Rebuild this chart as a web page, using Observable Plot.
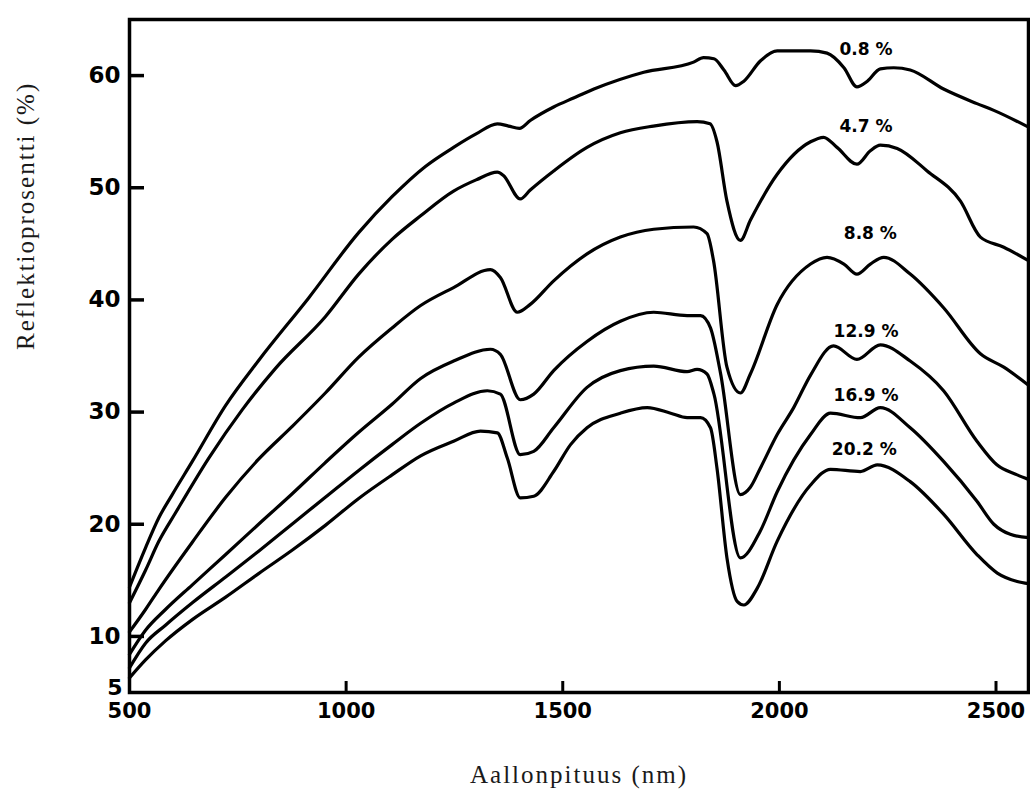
<!DOCTYPE html>
<html>
<head>
<meta charset="utf-8">
<script src="https://cdn.jsdelivr.net/npm/d3@7"></script>
<script src="https://cdn.jsdelivr.net/npm/@observablehq/plot@0.6"></script>
<style>
  html, body { margin: 0; padding: 0; background: white; }
</style>
</head>
<body>
<div id="chart"></div>
<script>
// Tick values
const xTicks = [500, 1000, 1500, 2000, 2500];
const yTicks = [5, 10, 20, 30, 40, 50, 60];

// Axis titles
const xTitle = "Aallonpituus (nm)";
const yTitle = "Reflektioprosentti (%)";

// Series: 0.8 %
const wl08 = [500, 537, 568, 598, 645, 722, 798, 914, 1029, 1106, 1183, 1248, 1300, 1349, 1375, 1400, 1425, 1479, 1525, 1572, 1687, 1802, 1825, 1849, 1872, 1899, 1918, 1956, 1995, 2072, 2110, 2149, 2179, 2203, 2233, 2264, 2302, 2379, 2456, 2495, 2575];
const r08  = [14.4, 17.9, 20.6, 22.6, 25.6, 30.6, 34.6, 40.2, 46.0, 49.2, 51.9, 53.6, 54.8, 55.7, 55.5, 55.3, 56.0, 57.2, 58.0, 58.8, 60.3, 61.2, 61.6, 61.5, 60.5, 59.1, 59.5, 61.3, 62.2, 62.2, 62.0, 60.7, 59.0, 59.5, 60.6, 60.7, 60.5, 58.8, 57.5, 56.9, 55.4];

// Series: 4.7 %
const wl47 = [500, 537, 568, 606, 683, 760, 837, 952, 1029, 1106, 1172, 1248, 1300, 1349, 1363, 1402, 1425, 1479, 1556, 1633, 1709, 1810, 1840, 1856, 1879, 1910, 1933, 1995, 2072, 2102, 2133, 2179, 2210, 2233, 2272, 2341, 2418, 2464, 2518, 2575];
const r47  = [13.0, 15.9, 18.5, 21.0, 25.9, 30.2, 33.9, 38.5, 42.3, 45.4, 47.5, 49.7, 50.7, 51.4, 51.1, 49.0, 49.8, 51.5, 53.6, 54.9, 55.5, 55.9, 55.7, 54.1, 48.8, 45.3, 47.1, 51.2, 54.1, 54.5, 53.6, 52.1, 53.3, 53.8, 53.5, 51.5, 48.8, 45.6, 44.7, 43.5];

// Series: 8.8 %
const wl88 = [500, 537, 568, 645, 722, 798, 875, 952, 1029, 1106, 1172, 1248, 1333, 1356, 1395, 1425, 1479, 1556, 1633, 1710, 1802, 1833, 1848, 1879, 1910, 1933, 1995, 2072, 2110, 2149, 2179, 2210, 2241, 2302, 2379, 2464, 2518, 2575];
const r88  = [10.4, 12.4, 14.2, 18.4, 22.4, 25.8, 28.7, 31.7, 34.9, 37.5, 39.5, 41.1, 42.7, 42.0, 38.9, 39.6, 41.7, 44.1, 45.6, 46.3, 46.5, 45.9, 43.5, 34.0, 31.7, 33.4, 39.6, 43.2, 43.8, 43.2, 42.3, 43.2, 43.8, 42.3, 39.3, 35.2, 34.0, 32.4];

// Series: 12.9 %
const wl129 = [500, 537, 583, 645, 722, 798, 875, 952, 1029, 1106, 1172, 1248, 1333, 1356, 1402, 1433, 1479, 1556, 1633, 1710, 1787, 1818, 1841, 1864, 1910, 1933, 1956, 1995, 2033, 2072, 2125, 2179, 2233, 2302, 2379, 2456, 2502, 2549, 2575];
const r129  = [8.4, 10.55, 12.4, 14.6, 17.3, 20.0, 22.7, 25.5, 28.2, 30.7, 33.0, 34.55, 35.6, 35.15, 31.1, 31.6, 33.7, 36.3, 38.1, 38.9, 38.6, 38.6, 37.5, 33.5, 22.65, 23.3, 25.0, 28.0, 30.4, 33.3, 35.9, 34.7, 36.0, 34.55, 31.9, 27.4, 25.3, 24.4, 24.0];

// Series: 16.9 %
const wl169 = [500, 537, 583, 645, 722, 798, 875, 952, 1029, 1106, 1172, 1248, 1326, 1356, 1402, 1433, 1479, 1556, 1633, 1710, 1787, 1810, 1833, 1849, 1910, 1956, 1995, 2072, 2118, 2187, 2233, 2302, 2379, 2456, 2495, 2533, 2575];
const r169  = [7.2, 9.4, 11.0, 13.0, 15.3, 17.6, 20.0, 22.4, 24.8, 27.1, 29.0, 30.8, 31.9, 31.6, 26.2, 26.5, 28.6, 32.2, 33.7, 34.1, 33.6, 33.8, 33.4, 31.6, 17.0, 19.4, 22.9, 28.0, 29.9, 29.5, 30.4, 28.6, 25.6, 22.05, 20.0, 19.1, 18.8];

// Series: 20.2 %
const wl202 = [500, 537, 583, 645, 722, 798, 876, 952, 1029, 1106, 1172, 1248, 1310, 1349, 1372, 1402, 1433, 1479, 1518, 1556, 1633, 1695, 1749, 1787, 1818, 1841, 1856, 1879, 1903, 1918, 1949, 1995, 2072, 2118, 2187, 2226, 2302, 2379, 2456, 2503, 2549, 2575];
const r202  = [6.3, 7.9, 9.6, 11.5, 13.5, 15.6, 17.7, 19.9, 22.3, 24.4, 26.1, 27.4, 28.3, 28.15, 25.9, 22.35, 22.5, 24.7, 27.1, 28.6, 29.9, 30.4, 29.9, 29.5, 29.5, 28.6, 25.0, 17.0, 13.1, 12.8, 14.3, 18.5, 23.5, 24.9, 24.7, 25.3, 23.8, 20.9, 17.3, 15.65, 14.9, 14.7];

// Curve labels
const labelText = ["0.8 %", "4.7 %", "8.8 %", "12.9 %", "16.9 %", "20.2 %"];
const labelWl   = [2200, 2200, 2210, 2200, 2200, 2196];
const labelR    = [62.3, 55.5, 45.9, 37.2, 31.5, 26.7];

const series = [
  {name: "0.8 %", wl: wl08, r: r08},
  {name: "4.7 %", wl: wl47, r: r47},
  {name: "8.8 %", wl: wl88, r: r88},
  {name: "12.9 %", wl: wl129, r: r129},
  {name: "16.9 %", wl: wl169, r: r169},
  {name: "20.2 %", wl: wl202, r: r202}
];
const data = series.flatMap(s => s.wl.map((w, i) => ({series: s.name, wl: w, r: s.r[i]})));

const W = 1030, H = 798;
const mL = 129, mR = 2, mT = 19, mB = 106;
const innerW = W - mL - mR, innerH = H - mT - mB;

const tickFont = "DejaVu Sans";
const chart = Plot.plot({
  width: W, height: H,
  marginLeft: mL, marginRight: mR, marginTop: mT, marginBottom: mB,
  style: {background: "white", color: "black"},
  x: {domain: [500, 2575]},
  y: {domain: [5, 65]},
  marks: [
    Plot.frame({stroke: "black", strokeWidth: 3.5}),
    Plot.tickY(yTicks.filter(d => d > 5), {y: d => d, insetRight: innerW - 15, stroke: "black", strokeWidth: 3.5}),
    Plot.tickX(xTicks.filter(d => d > 500), {x: d => d, insetTop: innerH - 11, stroke: "black", strokeWidth: 3}),
    Plot.axisY(yTicks.filter(d => d > 5), {tickSize: 0, tickPadding: 9, fontSize: 23, fontWeight: "bold", fontFamily: tickFont, tickFormat: d3.format("d"), label: null}),
    Plot.axisY(yTicks.filter(d => d === 5), {tickSize: 0, tickPadding: 7, dy: -5, fontSize: 22, fontWeight: "bold", fontFamily: tickFont, tickFormat: d3.format("d"), label: null}),
    Plot.axisX(xTicks, {tickSize: 0, tickPadding: 11, fontSize: 21, fontWeight: "bold", fontFamily: tickFont, tickFormat: d3.format("d"), label: null}),
    Plot.line(data, {x: "wl", y: "r", z: "series", stroke: "black", strokeWidth: 3.2, curve: "monotone-x", strokeLinejoin: "round"}),
    Plot.text(labelText, {x: labelWl, y: labelR, text: d => d, fontSize: 17, fontWeight: "bold", fontFamily: tickFont, fill: "black"}),
    Plot.text([xTitle], {frameAnchor: "bottom", dy: 90, fontSize: 25, fontFamily: "Liberation Serif", fill: "#1a1a1a"}),
    Plot.text([yTitle], {frameAnchor: "left", dx: -104, dy: -6, rotate: -90, fontSize: 25, fontFamily: "Liberation Serif", fill: "#1a1a1a"})
  ]
});

d3.select(chart).selectAll("text")
  .filter(function() { return this.textContent === xTitle || this.textContent === yTitle; })
  .attr("letter-spacing", "2");

document.getElementById("chart").appendChild(chart);
</script>
</body>
</html>
